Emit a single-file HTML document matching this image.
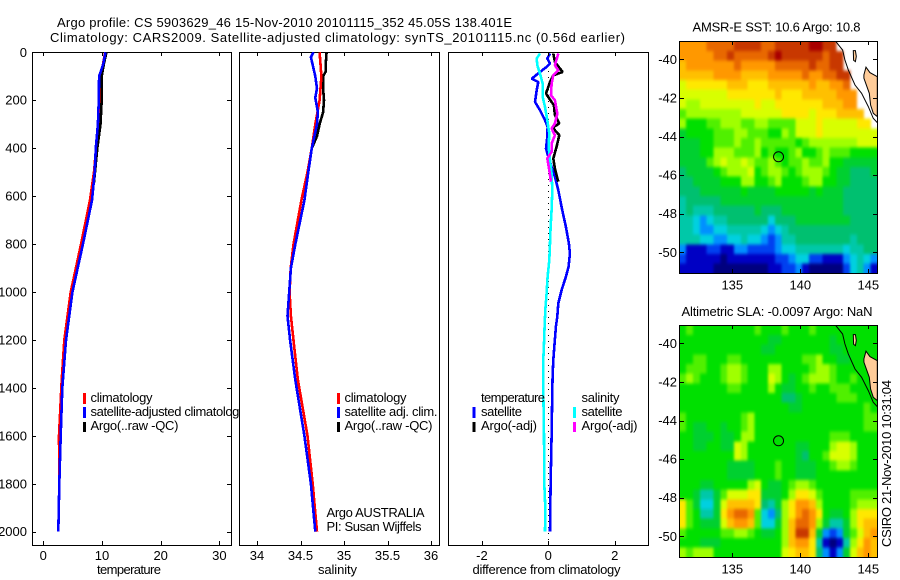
<!DOCTYPE html>
<html>
<head>
<meta charset="utf-8">
<title>Argo profile</title>
<style>
html,body{margin:0;padding:0;background:#fff;}
svg{display:block;}
text{font-family:"Liberation Sans",sans-serif;font-size:13px;fill:#000;}
</style>
</head>
<body>
<svg id="chart" xmlns="http://www.w3.org/2000/svg" width="900" height="580" viewBox="0 0 900 580">
<defs>
  <filter id="cell-soften" filterUnits="userSpaceOnUse" x="650" y="20" width="250" height="560" color-interpolation-filters="sRGB">
    <feGaussianBlur stdDeviation="1.2 1.7"/>
  </filter>
  <clipPath id="clip-sst"><rect x="679.5" y="41.5" width="198" height="232"/></clipPath>
  <clipPath id="clip-sla"><rect x="679.5" y="325.5" width="198" height="232"/></clipPath>
</defs>
<rect x="0" y="0" width="900" height="580" fill="#fff"/>
<text x="57" y="27" textLength="455" lengthAdjust="spacing">Argo profile: CS 5903629_46 15-Nov-2010 20101115_352 45.05S 138.401E</text>
<text x="50" y="42" textLength="575" lengthAdjust="spacing">Climatology: CARS2009. Satellite-adjusted climatology: synTS_20101115.nc (0.56d earlier)</text>

<g id="panel-temp">
  <rect x="32.5" y="52.5" width="199" height="493" fill="#fff" stroke="#000"/>
  <g id="marks-temp"></g>
  <rect x="83" y="393" width="3" height="11" fill="#f00"/>
  <rect x="83" y="407" width="3" height="11" fill="#00f"/>
  <rect x="83" y="422" width="3" height="10" fill="#000"/>
  <text x="90.5" y="402" textLength="62">climatology</text>
  <text x="90.5" y="416" textLength="155">satellite-adjusted climatology</text>
  <text x="90.5" y="430" textLength="88">Argo(..raw -QC)</text>
  <text x="97" y="574" textLength="64">temperature</text>
</g>

<g id="panel-sal">
  <rect x="239" y="52" width="201" height="494" fill="#fff"/>
  <rect x="239.5" y="52.5" width="200" height="493" fill="#fff" stroke="#000"/>
  <g id="marks-sal"></g>
  <rect x="337" y="393" width="3" height="11" fill="#f00"/>
  <rect x="337" y="407" width="3" height="11" fill="#00f"/>
  <rect x="337" y="422" width="3" height="10" fill="#000"/>
  <text x="344.5" y="402" textLength="62">climatology</text>
  <text x="344.5" y="416" textLength="93">satellite adj. clim.</text>
  <text x="344.5" y="430" textLength="88">Argo(..raw -QC)</text>
  <text x="326.5" y="517" textLength="98">Argo AUSTRALIA</text>
  <text x="326.5" y="531" textLength="95">PI: Susan Wijffels</text>
  <text x="318" y="574" textLength="39">salinity</text>
</g>

<g id="panel-diff">
  <rect x="448.5" y="52.5" width="200" height="493" fill="#fff" stroke="#000"/>
  <line x1="548.5" y1="53" x2="548.5" y2="545" stroke="#000" stroke-width="1" stroke-dasharray="1 5"/>
  <g id="marks-diff"></g>
  <text x="481" y="402" textLength="64">temperature</text>
  <text x="481" y="416" textLength="41">satellite</text>
  <text x="481" y="430" textLength="56">Argo(-adj)</text>
  <rect x="472.5" y="407" width="3" height="11" fill="#00f"/>
  <rect x="472.5" y="422" width="3" height="10" fill="#000"/>
  <text x="581.5" y="402" textLength="38">salinity</text>
  <text x="581.5" y="416" textLength="41">satellite</text>
  <text x="581.5" y="430" textLength="56">Argo(-adj)</text>
  <rect x="573" y="407" width="3" height="11" fill="#0ff"/>
  <rect x="573" y="422" width="3" height="10" fill="#f0f"/>
  <text x="472.5" y="574" textLength="148">difference from climatology</text>
</g>

<text x="692.5" y="31.5" textLength="168">AMSR-E SST: 10.6 Argo: 10.8</text>
<g id="map-sst"></g>
<text x="681.5" y="316" textLength="191">Altimetric SLA: -0.0097 Argo: NaN</text>
<g id="map-sla"></g>
<text transform="translate(891,547) rotate(-90)" textLength="167">CSIRO 21-Nov-2010 10:31:04</text>
</svg>

<script>
// ---------- depth tick + x tick labels ----------
const depthTicks = [0, 200, 400, 600, 800, 1000, 1200, 1400, 1600, 1800, 2000];
const tempTicks = [0, 10, 20, 30];
const salTicks = [34, 34.5, 35, 35.5, 36];
const salTickLabels = ['34', '34.5', '35', '35.5', '36'];
const diffTicks = [-2, 0, 2];
const lonTicks = [135, 140, 145];
const latTicks = [-40, -42, -44, -46, -48, -50];

// ---------- temperature profiles ----------
const climDepths = [0, 100, 150, 200, 300, 400, 500, 617, 801, 1001, 1201, 1367, 1600, 1800, 2000];
const tempClim = [10.55, 9.8, 9.75, 9.6, 9.35, 9.0, 8.64, 7.96, 6.42, 4.66, 3.58, 3.13, 2.67, 2.72, 2.56];
const satDepths = [0, 50, 100, 200, 300, 400, 500, 617, 801, 1001, 1201, 1400, 1600, 1800, 2000];
const tempSat = [10.6, 10.2, 9.5, 9.45, 9.3, 8.95, 8.75, 8.3, 6.75, 4.95, 3.87, 3.24, 2.96, 2.72, 2.56];
const argoDepths = [0, 50, 100, 200, 300, 400, 500, 550];
const tempArgo = [10.75, 10.3, 9.95, 9.95, 9.75, 9.2, 8.8, 8.6];

// ---------- salinity profiles ----------
const salClimDepths = [0, 100, 200, 300, 400, 500, 617, 801, 900, 1001, 1100, 1201, 1367, 1600, 1800, 2000];
const salClim = [34.72, 34.74, 34.72, 34.67, 34.63, 34.58, 34.51, 34.42, 34.387, 34.375, 34.39, 34.42, 34.47, 34.58, 34.64, 34.69];
const salSatDepths = [0, 20, 100, 150, 190, 250, 300, 400, 500, 617, 801, 900, 1001, 1100, 1201, 1367, 1600, 1800, 2000];
const salSat = [34.65, 34.62, 34.67, 34.69, 34.67, 34.7, 34.69, 34.63, 34.59, 34.545, 34.44, 34.39, 34.37, 34.35, 34.38, 34.44, 34.545, 34.62, 34.67];
const salArgoDepths = [0, 50, 80, 100, 150, 200, 250, 300, 350, 400, 500, 550];
const salArgo = [34.8, 34.79, 34.79, 34.76, 34.76, 34.77, 34.76, 34.72, 34.69, 34.63, 34.59, 34.57];

// ---------- difference profiles ----------
const dTempSatDepths = [5, 26, 47, 61, 82, 110, 124, 158, 207, 242, 283, 311, 353, 401, 436, 478, 519, 575, 658, 728, 797, 839, 894, 936, 992, 1047, 1103, 1144, 1214, 1283, 1353, 1408, 1600, 1800, 2000];
const dTempSat = [0.05, -0.03, 0.05, -0.05, -0.25, -0.5, -0.3, -0.35, -0.4, -0.25, -0.1, -0.02, -0.03, -0.07, 0, 0.1, 0.2, 0.3, 0.42, 0.53, 0.62, 0.65, 0.61, 0.53, 0.4, 0.3, 0.27, 0.23, 0.19, 0.15, 0.13, 0.12, 0.1, 0.07, 0.05];
const dSalSatDepths = [5, 26, 54, 89, 131, 186, 228, 283, 339, 394, 450, 506, 575, 658, 728, 797, 867, 936, 1006, 1075, 1144, 1214, 1283, 1408, 1600, 1800, 1900, 2000];
const dSalSat = [-0.25, -0.35, -0.33, -0.25, -0.17, -0.17, -0.1, -0.03, 0.03, 0.01, 0.05, 0.1, 0.12, 0.1, 0.07, 0.05, 0.03, -0.02, -0.05, -0.09, -0.11, -0.13, -0.15, -0.15, -0.13, -0.12, -0.09, -0.1];
const dTempArgoDepths = [5, 40, 82, 96, 124, 172, 193, 221, 262, 297, 314, 346, 394, 443, 485, 540];
const dTempArgo = [0.15, 0.2, 0.43, 0.15, 0.05, -0.07, 0.03, 0.17, 0.2, 0.33, 0.13, 0.33, 0.25, 0.15, 0.2, 0.3];
const dSalArgoDepths = [5, 54, 75, 96, 131, 179, 200, 256, 297, 318, 346, 381, 415, 443, 492, 540];
const dSalArgo = [0.3, 0.2, 0.3, 0.15, 0.1, 0.08, 0.2, 0.27, 0.2, 0.1, 0.2, 0.1, 0.1, -0.03, 0.03, 0.08];

// ---------- map grids: base-18 colour levels, '.' = missing ----------
const sstRows = [
"eeeeffffggggffggggghhgg......",
"eeeeeffgfffffghggggggfgg.....",
"deeeeeeefeeeeefffffgffgg.....",
"dddddeeeeddddeeeeefeeffgg....",
"bccccccdddcccddddddeddeef....",
"bbbbbbbcccccccdcccdddddeee...",
"baabbbbbbbbcbbcccccccdddee...",
"9aaaaaaaabbbbbbccccbcccdddd..",
"a88899aaa99aa9999bbbcbbbbbcc.",
"78888999aa99988a9bbbcbbbbbbbb",
"77788999a99a9999989aaaaaaabbb",
"77788aaa999a89889a889a9998888",
"77779abaaba99a9899a99a8877777",
"6777789aaab89aa989aaa98776667",
"667777888aa889a8889aa88776666",
"66677777787777888887877766666",
"56666677777777777777777766666",
"56555666666766677777777766666",
"55434556666664666777777776666",
"55433445555543456666666666666",
"55544334454432355666666665666",
"31112211332222344555555545566",
"21111101111111223442211134543",
"11111000000001122310000024531"
];
const slaRows = [
"89888888888988898889888888888",
"88888888888887788888887888888",
"88888888888877888888887788888",
"88998889988888888899a88778888",
"8999889aa9888aa88889aa9888888",
"9a98889aa9888ba8789aaa9889888",
"8888888998888a877889889998888",
"88888888888888866788888999888",
"88888888888888887788888888898",
"9888888889a888888888888888899",
"9877887889a888888888888888899",
"887778778aa888888888889998888",
"88778877ba888888877888abba888",
"88888888ba888888876889bbba888",
"88888887777888988777889aa9888",
"88888887777888988777888888888",
"8887788888ab87789aa9888888888",
"8875579bbbcc7778accb988889999",
"c97447bddddc657aceeda88889aaa",
"c98557ceffe9436acefec8778accc",
"c98777bdeed9447adffea7557acdd",
"98888899aa98778adggd732379bde",
"888777888888888adeec51015aced",
"a9aaa8888888888bcddc63137bded"
];
const colorLevels = ['#00007f','#0000c4','#0040f0','#0090ff','#00d0e0','#00c8a8','#00c070','#00d030','#00e000','#50f000','#a0ff00','#d8ff00','#ffe800','#ffc000','#ff9800','#e86800','#c83800','#a80000'];

// ---------- geography (lon / lat) ----------
const coastLons = [142.6, 143.11, 143.28, 143.53, 144.02, 144.51, 145.0, 145.37, 145.66];
const coastLats = [-39.07, -39.52, -40.03, -40.55, -41.33, -41.76, -42.45, -43.06, -43.28];
const landLons = [144.68, 144.83, 145.12, 145.66, 145.66, 145.37, 145.17, 145.07, 144.68];
const landLats = [-40.81, -40.41, -40.69, -40.9, -42.97, -42.8, -42.37, -41.76, -40.98];
const islandLons = [143.9, 144.05, 144.12, 144.05, 143.92];
const islandLats = [-39.55, -39.55, -39.85, -40.12, -40.05];
const floatLon = 138.4;
const floatLat = -45.05;

// ---------- scales ----------
const SVGNS = 'http://www.w3.org/2000/svg';
function yDepth(d) { return 52.3 + 0.2397 * d; }
function xTemp(t) { return 43.3 + 5.87 * t; }
function xSal(s) { return 257 + 87 * (s - 34); }
function xDiff(v) { return 548.3 + 33.2 * v; }
function make(tag, attrs, parent) {
  const el = document.createElementNS(SVGNS, tag);
  for (const k in attrs) el.setAttribute(k, attrs[k]);
  parent.appendChild(el);
  return el;
}
function drawProfile(parent, name, depths, values, xFn, color) {
  const pts = depths.map(function (d, i) { return xFn(values[i]).toFixed(1) + ',' + yDepth(d).toFixed(1); }).join(' ');
  const el = make('polyline', { points: pts, fill: 'none', stroke: color, 'stroke-width': 2.6, 'shape-rendering': 'crispEdges', 'stroke-linejoin': 'bevel' }, parent);
  
  
}
function drawXAxis(parent, prefix, ticks, labels, xFn, top, bottom, labelY) {
  ticks.forEach(function (t, i) {
    const x = Math.round(xFn(t)) + 0.5;
    const tickTop = make('line', { x1: x, x2: x, y1: top, y2: top + 4, stroke: '#000' }, parent);
    
    
    const tickBottom = make('line', { x1: x, x2: x, y1: bottom, y2: bottom - 4, stroke: '#000' }, parent);
    
    
    const label = make('text', { x: xFn(t), y: labelY, 'text-anchor': 'middle' }, parent);
    label.textContent = labels[i];
    
    
  });
}

// ---------- profile panels ----------
const marksTemp = document.getElementById('marks-temp');
drawProfile(marksTemp, 'temperature-climatology-line', climDepths, tempClim, xTemp, '#f00');
drawProfile(marksTemp, 'temperature-argo-line', argoDepths, tempArgo, xTemp, '#000');
drawProfile(marksTemp, 'temperature-satellite-line', satDepths, tempSat, xTemp, '#00f');

const marksSal = document.getElementById('marks-sal');
drawProfile(marksSal, 'salinity-argo-line', salArgoDepths, salArgo, xSal, '#000');
drawProfile(marksSal, 'salinity-climatology-line', salClimDepths, salClim, xSal, '#f00');
drawProfile(marksSal, 'salinity-satellite-line', salSatDepths, salSat, xSal, '#00f');

const marksDiff = document.getElementById('marks-diff');
drawProfile(marksDiff, 'difference-temp-satellite-line', dTempSatDepths, dTempSat, xDiff, '#00f');
drawProfile(marksDiff, 'difference-temp-argo-line', dTempArgoDepths, dTempArgo, xDiff, '#000');
drawProfile(marksDiff, 'difference-sal-satellite-line', dSalSatDepths, dSalSat, xDiff, '#0ff');
drawProfile(marksDiff, 'difference-sal-argo-line', dSalArgoDepths, dSalArgo, xDiff, '#f0f');

// ---------- profile axes ----------
const panelTemp = document.getElementById('panel-temp');
drawXAxis(panelTemp, 'temperature-axis', tempTicks, tempTicks.map(String), xTemp, 52, 545, 560);
depthTicks.forEach(function (d) {
  const y = Math.round(yDepth(d)) + 0.5;
  const tickLeft = make('line', { x1: 32, x2: 36, y1: y, y2: y, stroke: '#000' }, panelTemp);
  
  
  const tickRight = make('line', { x1: 231, x2: 227, y1: y, y2: y, stroke: '#000' }, panelTemp);
  
  
  const label = make('text', { x: 27, y: yDepth(d) + 4.5, 'text-anchor': 'end' }, panelTemp);
  label.textContent = String(d);
  
  
});
const panelSal = document.getElementById('panel-sal');
drawXAxis(panelSal, 'salinity-axis', salTicks, salTickLabels, xSal, 52, 545, 560);
const panelDiff = document.getElementById('panel-diff');
drawXAxis(panelDiff, 'difference-axis', diffTicks, diffTicks.map(String), xDiff, 52, 545, 560);

// ---------- maps ----------
function drawMap(parent, prefix, clipId, rows, top) {
  const left = 679.3, right = 877.3, height = 232, bleed = 10;
  const lat40 = top + 18;
  const xLon = function (lon) { return 732.3 + 13.6 * (lon - 135); };
  const yLat = function (lat) { return lat40 + 19.3 * (-40 - lat); };
  const nCols = rows[0].length;
  const nRows = rows.length;
  const cellW = (right - left) / nCols;
  const cellH = height / nRows;
  const clipGroup = make('g', { 'clip-path': 'url(#' + clipId + ')' }, parent);
  
  
  const cellGroup = make('g', { filter: 'url(#cell-soften)' }, clipGroup);
  
  
  rows.forEach(function (row, r) {
    row.split('').forEach(function (ch, c) {
      if (ch === '.') return;
      const padL = c === 0 ? bleed : 0;
      const padR = c === nCols - 1 ? bleed : 0;
      const padT = r === 0 ? bleed : 0;
      const padB = r === nRows - 1 ? bleed : 0;
      const cell = make('rect', {
        x: (left + c * cellW - padL).toFixed(2), y: (top + r * cellH - padT).toFixed(2),
        width: (cellW + 0.4 + padL + padR).toFixed(2), height: (cellH + 0.4 + padT + padB).toFixed(2),
        fill: colorLevels[parseInt(ch, 18)], 'shape-rendering': 'crispEdges'
      }, cellGroup);
      
      
    });
  });
  const toPts = function (lons, lats) {
    return lons.map(function (lon, i) { return xLon(lon).toFixed(1) + ',' + yLat(lats[i]).toFixed(1); }).join(' ');
  };
  const land = make('polygon', { points: toPts(landLons, landLats), fill: '#ffcc99', stroke: '#000' }, parent);
  
  
  const island = make('polygon', { points: toPts(islandLons, islandLats), fill: '#ffcc99', stroke: '#000' }, parent);
  
  
  const coast = make('polyline', { points: toPts(coastLons, coastLats), fill: 'none', stroke: '#000' }, parent);
  
  
  const marker = make('circle', { cx: xLon(floatLon), cy: yLat(floatLat), r: 5, fill: 'none', stroke: '#000' }, parent);
  
  
  const frame = make('rect', { x: 679.5, y: Math.round(top) + 0.5, width: 198, height: height, fill: 'none', stroke: '#000' }, parent);
  
  
  drawXAxis(parent, prefix + '-lon', lonTicks, lonTicks.map(String), xLon, Math.round(top), Math.round(top) + height, top + 248);
  latTicks.forEach(function (lat) {
    const y = Math.round(yLat(lat)) + 0.5;
    const tickLeft = make('line', { x1: 680, x2: 684, y1: y, y2: y, stroke: '#000' }, parent);
    
    
    const tickRight = make('line', { x1: 877, x2: 873, y1: y, y2: y, stroke: '#000' }, parent);
    
    
    const label = make('text', { x: 677, y: yLat(lat) + 4.5, 'text-anchor': 'end' }, parent);
    label.textContent = String(lat);
    
    
  });
}
drawMap(document.getElementById('map-sst'), 'sst-map', 'clip-sst', sstRows, 41.3);
drawMap(document.getElementById('map-sla'), 'sla-map', 'clip-sla', slaRows, 325.3);
</script>
</body>
</html>
